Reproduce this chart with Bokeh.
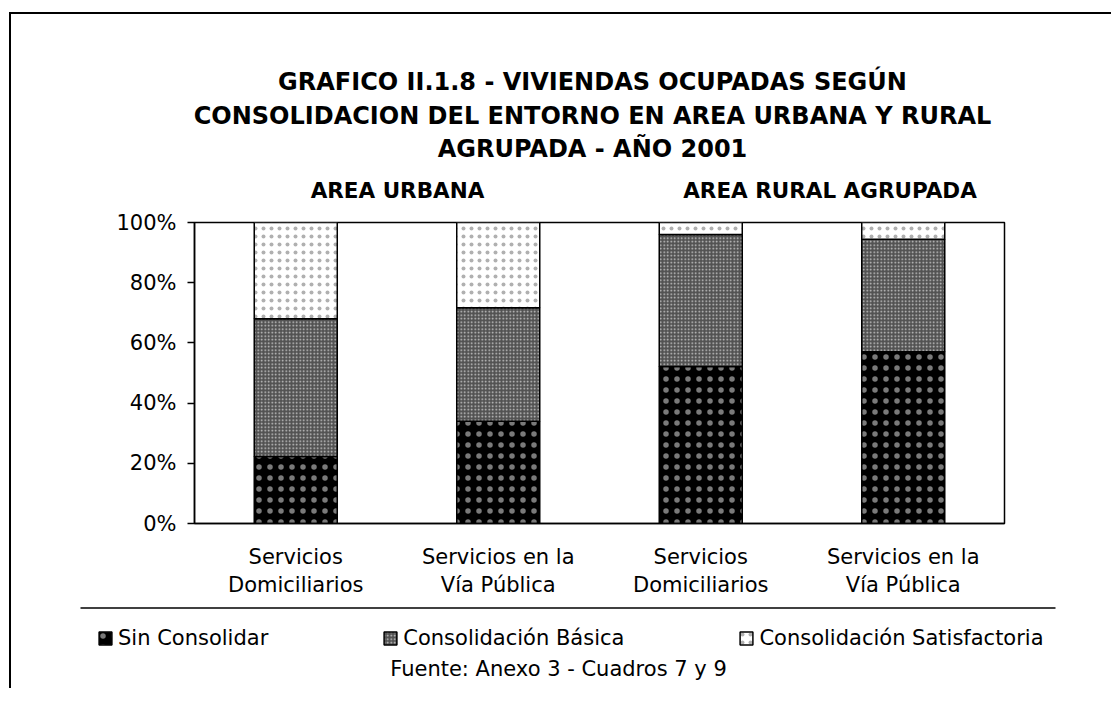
from bokeh.plotting import figure
from bokeh.layouts import column
from bokeh.models import (Range1d, FixedTicker, PrintfTickFormatter, Label, Legend, LegendItem,
                          BoxAnnotation, ColumnDataSource)
from bokeh.embed import file_html
from bokeh.resources import INLINE

# ---------------- data ----------------
title_lines = ["GRAFICO II.1.8 - VIVIENDAS OCUPADAS SEGÚN",
               "CONSOLIDACION DEL ENTORNO EN AREA URBANA Y RURAL",
               "AGRUPADA - AÑO 2001"]
group_titles = ["AREA URBANA", "AREA RURAL AGRUPADA"]
categories = ["Servicios\nDomiciliarios", "Servicios en la\nVía Pública",
              "Servicios\nDomiciliarios", "Servicios en la\nVía Pública"]
series = ["Sin Consolidar", "Consolidación Básica", "Consolidación Satisfactoria"]
sin_consolidar = [22.3, 34.0, 52.2, 57.1]
consolidacion_basica = [45.7, 37.7, 43.8, 37.3]
consolidacion_satisfactoria = [32.0, 28.3, 4.0, 5.6]
y_ticks = [0, 20, 40, 60, 80, 100]
source_note = "Fuente: Anexo 3 - Cuadros 7 y 9"

# ---------------- style ----------------
FONT = "DejaVu Sans"
W = 1100
stack_cols = ["sin", "basica", "satisf"]
fills = ["black", "#525252", "white"]
hatch_colors = ["#7a7a7a", "#cccccc", "#b0b0b0"]
hatch_scales = [11, 3.5, 8]


def blank_fig(h):
    f = figure(width=W, height=h, x_range=Range1d(0, W), y_range=Range1d(h, 0),
               x_axis_type=None, y_axis_type=None, output_backend="svg",
               toolbar_location=None, min_border=0, frame_align=False)
    f.outline_line_color = None
    f.background_fill_color = "white"
    f.border_fill_color = "white"
    return f


# ---------------- header ----------------
top = blank_fig(194)
for txt, yy in zip(title_lines, [67.7, 101.0, 134.3]):
    top.add_layout(Label(x=581, y=yy, text=txt, text_align="center", text_baseline="middle",
                         text_font=FONT, text_font_size="24px", text_font_style="bold",
                         text_color="black"))
for txt, xx in zip(group_titles, [386, 818.5]):
    top.add_layout(Label(x=xx, y=175.5, text=txt, text_align="center", text_baseline="middle",
                         text_font=FONT, text_font_size="21.5px", text_font_style="bold",
                         text_color="black"))

# ---------------- main chart ----------------
positions = list(range(len(categories)))
src = ColumnDataSource(dict(x=positions, sin=sin_consolidar, basica=consolidacion_basica,
                            satisf=consolidacion_satisfactoria))

p = figure(width=W, height=395, x_range=Range1d(-0.5, len(categories) - 0.5),
           y_range=Range1d(0, 100), output_backend="svg", toolbar_location=None,
           min_border_left=183, min_border_right=107, min_border_top=14, min_border_bottom=80,
           frame_align=False)
p.xgrid.visible = False
p.ygrid.visible = False
p.outline_line_color = "black"
p.outline_line_width = 1.5
p.background_fill_color = "white"
p.border_fill_color = "white"

xa = p.xaxis[0]
xa.ticker = FixedTicker(ticks=positions, minor_ticks=[])
xa.major_label_overrides = {i: c for i, c in zip(positions, categories)}
xa.major_tick_in = 0
xa.major_tick_out = 0
xa.minor_tick_in = 0
xa.minor_tick_out = 0
xa.axis_line_color = "black"
xa.axis_line_width = 1.5
xa.major_label_text_font = FONT
xa.major_label_text_font_size = "21px"
xa.major_label_text_color = "black"
xa.major_label_standoff = 21
xa.major_label_text_line_height = 1.2

ya = p.yaxis[0]
ya.ticker = FixedTicker(ticks=y_ticks, minor_ticks=[])
ya.formatter = PrintfTickFormatter(format="%d%%")
ya.major_tick_in = 0
ya.major_tick_out = 7
ya.minor_tick_in = 0
ya.minor_tick_out = 0
ya.axis_line_color = "black"
ya.axis_line_width = 1.5
ya.major_tick_line_color = "black"
ya.major_tick_line_width = 1.5
ya.major_label_text_font = FONT
ya.major_label_text_font_size = "21px"
ya.major_label_text_color = "black"
ya.major_label_standoff = 11

p.vbar_stack(stack_cols, x="x", width=0.41, source=src,
             fill_color=fills, hatch_pattern="dot",
             hatch_color=hatch_colors, hatch_scale=hatch_scales, hatch_weight=1,
             line_color="black", line_width=1.5)

# ---------------- footer: rule, legend, source ----------------
bottom = blank_fig(85)
bottom.add_layout(BoxAnnotation(left=69, right=1044, top=3.75, bottom=5.25,
                                fill_color="black", fill_alpha=1, line_color=None))
# legend proxies: same style as the bars, hidden (only their swatches are shown)
proxies = bottom.vbar_stack(stack_cols, x="x", width=0.41, source=src, visible=False,
                            fill_color=fills, hatch_pattern="dot",
                            hatch_color=hatch_colors, hatch_scale=hatch_scales, hatch_weight=1,
                            line_color="black", line_width=1.5)
legend = Legend(items=[LegendItem(label=s, renderers=[r]) for s, r in zip(series, proxies)],
                orientation="horizontal", location=(86, 38.5),
                glyph_width=16, glyph_height=16, label_standoff=5, spacing=114,
                padding=0, margin=0, border_line_color=None, background_fill_alpha=0,
                inactive_fill_alpha=0, click_policy="none",
                label_text_font=FONT, label_text_font_size="21px", label_text_color="black")
bottom.add_layout(legend)
bottom.add_layout(Label(x=547, y=65, text=source_note, text_align="center", text_baseline="middle",
                        text_font=FONT, text_font_size="21px", text_color="black"))

layout = column(top, p, bottom, margin=(12, 0, 0, 9),
                styles={"border-left": "2px solid black", "border-top": "2px solid black"})

open("out.html", "w").write(file_html(layout, INLINE))
